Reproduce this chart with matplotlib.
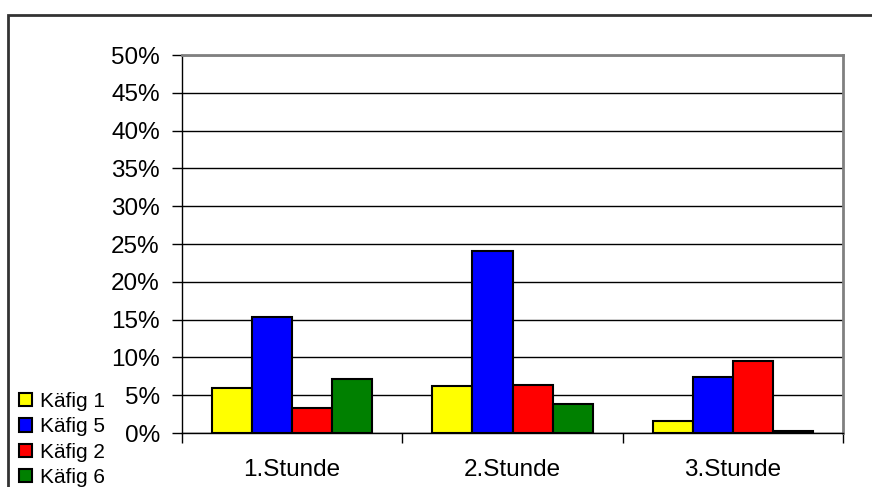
import matplotlib
matplotlib.use('Agg')
import matplotlib.pyplot as plt
import matplotlib.patches as mpatches
import numpy as np

plt.rcParams['font.family'] = ['Liberation Sans', 'DejaVu Sans']

# Data (percent)
stunden = ['1.Stunde', '2.Stunde', '3.Stunde']
kaefig_1 = [5.9, 6.2, 1.6]
kaefig_5 = [15.4, 24.1, 7.4]
kaefig_2 = [3.3, 6.4, 9.5]
kaefig_6 = [7.2, 3.9, 0.3]
series = [('Käfig 1', kaefig_1, '#FFFF00'),
          ('Käfig 5', kaefig_5, '#0000FF'),
          ('Käfig 2', kaefig_2, '#FF0000'),
          ('Käfig 6', kaefig_6, '#008000')]
y_ticks = list(range(0, 55, 5))

fig = plt.figure(figsize=(8.72, 4.87), dpi=100)
ax = fig.add_axes([182/872, 54/487, 661/872, 378/487])

x = np.arange(len(stunden))
width = 0.182
handles = []
for i, (name, vals, col) in enumerate(series):
    b = ax.bar(x + (i - 1.5) * width, vals, width, color=col,
               edgecolor='black', linewidth=1.5, label=name, zorder=3)
    handles.append(b)

ax.set_xlim(-0.5, 2.5)
ax.set_ylim(0, 50)
ax.set_yticks(y_ticks)
ax.set_yticklabels([f'{v}%' for v in y_ticks])
ax.yaxis.grid(True, color='black', linewidth=1, zorder=0)
ax.set_axisbelow(True)

ax.set_xticks(x)
ax.set_xticklabels(stunden)
ax.set_xticks(np.arange(-0.5, 3, 1), minor=True)
ax.tick_params(axis='x', which='major', length=0, pad=19, labelsize=17.5)
ax.tick_params(axis='x', which='minor', length=7, width=1, direction='out')
ax.tick_params(axis='y', length=7, width=1, pad=9, labelsize=17.5)

for s in ['left', 'bottom']:
    ax.spines[s].set_color('black')
    ax.spines[s].set_linewidth(1)
for s in ['top', 'right']:
    ax.spines[s].set_color('#808080')
    ax.spines[s].set_linewidth(2)

fig.legend(handles=handles, loc='upper left', bbox_to_anchor=(19/872, 1 - 392/487),
           frameon=False, fontsize=15, handlelength=0.6, handleheight=0.6,
           handletextpad=0.4, labelspacing=0.3, borderaxespad=0, borderpad=0)

# outer chart frame (extends past the image edges)
frame = mpatches.Rectangle((8/872, -0.1), 1.1, 1 - 15/487 + 0.1, transform=fig.transFigure,
                           fill=False, edgecolor='#333333', linewidth=2, clip_on=False)
fig.patches.append(frame)

fig.savefig('out.png', dpi=100)
